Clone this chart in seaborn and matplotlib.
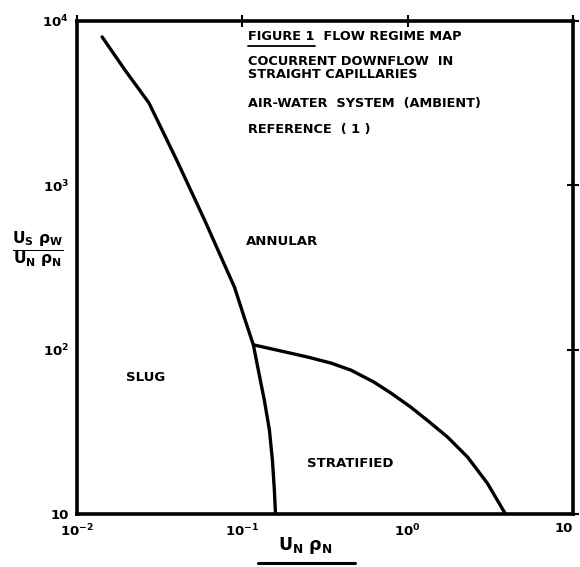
import matplotlib
matplotlib.use("Agg")
import matplotlib.pyplot as plt
from matplotlib.lines import Line2D
import seaborn as sns
import pandas as pd

# Slug / annular boundary
slug_x = [0.01416, 0.01945, 0.0272, 0.0400, 0.0590, 0.0747, 0.0895, 0.1028,
          0.1164, 0.1265, 0.1358, 0.1456, 0.1518, 0.156, 0.1585]
slug_y = [8000, 5035, 3170, 1426, 615, 361, 240, 156,
          107, 70, 49, 32.4, 21.3, 14.0, 10]

# Stratified boundary
strat_x = [0.1164, 0.172, 0.250, 0.344, 0.454, 0.624, 0.790, 1.04,
           1.32, 1.74, 2.30, 3.03, 3.9]
strat_y = [107, 98, 90, 82.8, 75, 63.5, 54.5, 44.8,
           37, 29.4, 22.2, 15.4, 10]

x_ticks = [1e-2, 1e-1, 1e0, 1e1]
x_tick_labels = [r"$10^{-2}$", r"$10^{-1}$", r"$10^{0}$", "10"]
y_ticks = [1e1, 1e2, 1e3, 1e4]
y_tick_labels = ["10", r"$10^{2}$", r"$10^{3}$", r"$10^{4}$"]

regions = ["ANNULAR", "SLUG", "STRATIFIED"]
region_x = [0.174, 0.026, 0.448]
region_y = [452, 68, 20.4]

notes = ["FIGURE 1  FLOW REGIME MAP",
         "COCURRENT DOWNFLOW  IN\nSTRAIGHT CAPILLARIES",
         "AIR-WATER  SYSTEM  (AMBIENT)",
         "REFERENCE  ( 1 )"]

sns.set_style("white")
plt.rcParams["font.family"] = ["DejaVu Sans"]
plt.rcParams["mathtext.default"] = "bf"

fig = plt.figure(figsize=(5.8, 5.67), dpi=100)
ax = fig.add_axes([0.133, 0.0935, 0.855, 0.8695])

df1 = pd.DataFrame({"x": slug_x, "y": slug_y})
df2 = pd.DataFrame({"x": strat_x, "y": strat_y})
for d in (df1, df2):
    sns.lineplot(data=d, x="x", y="y", sort=False, estimator=None,
                 color="black", lw=2.4, ax=ax,
                 solid_joinstyle="round", solid_capstyle="round")

ax.set_xscale("log")
ax.set_yscale("log")
ax.set_xlim(1e-2, 1e1)
ax.set_ylim(1e1, 1e4)
ax.set_xticks(x_ticks)
ax.set_xticklabels(x_tick_labels)
ax.set_yticks(y_ticks)
ax.set_yticklabels(y_tick_labels)
ax.minorticks_off()
ax.tick_params(which="major", direction="inout", length=8, width=1.5,
               top=True, right=True, labelsize=9.5, pad=2, colors="black")
for lab in ax.get_xticklabels() + ax.get_yticklabels():
    lab.set_fontweight("bold")
ax.get_xticklabels()[-1].set_horizontalalignment("right")
ax.set_xlabel("")
ax.set_ylabel("")
for s in ax.spines.values():
    s.set_visible(True)
    s.set_color("black")
    s.set_linewidth(2.6)

for name, rx, ry in zip(regions, region_x, region_y):
    ax.text(rx, ry, name, ha="center", va="center", fontsize=9.5,
            fontweight="bold", color="black")

# Notes block in the upper right
note_y = [37, 68, 103, 130]
for txt, py in zip(notes, note_y):
    fig.text(248 / 580, 1 - py / 567, txt, ha="left", va="center",
             fontsize=9.3, fontweight="bold", color="black", linespacing=0.95)
fig.add_artist(Line2D([248 / 580, 315 / 580], [1 - 46 / 567, 1 - 46 / 567],
                      color="black", lw=1.3))

# Axis quantities
fig.text(38 / 580, 1 - 250 / 567,
         r"$\frac{U_S\ \rho_W}{U_N\ \rho_N}$",
         ha="center", va="center", fontsize=16, color="black")
fig.text(305 / 580, 1 - 545 / 567, r"$U_N\ \rho_N$",
         ha="center", va="center", fontsize=12.5, color="black")
fig.add_artist(Line2D([258 / 580, 355 / 580], [1 - 563 / 567, 1 - 563 / 567],
                      color="black", lw=2.2))

fig.savefig("out.png", dpi=100, facecolor="white")
